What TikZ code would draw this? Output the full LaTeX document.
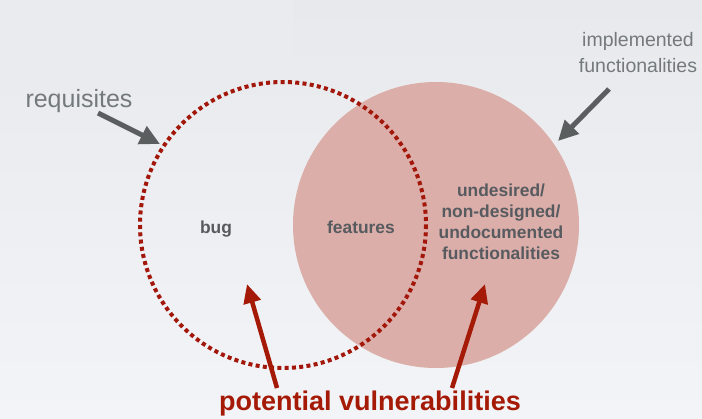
\documentclass[tikz,border=0pt]{standalone}
\usepackage{fontspec}
\setmainfont{Liberation Sans}
\usetikzlibrary{arrows.meta}
\definecolor{bgtop}{HTML}{E7E9EC}
\definecolor{bgbottom}{HTML}{F3F4F7}
\definecolor{patchcolor}{HTML}{E9EBEE}
\definecolor{pinkfill}{HTML}{DBAEAA}
\definecolor{dotred}{HTML}{A3170B}
\definecolor{arrowred}{HTML}{A51A06}
\definecolor{arrowgray}{HTML}{5A5E5E}
\definecolor{labelgray}{HTML}{74797E}
\definecolor{textgray}{HTML}{575B5F}
\tikzset{
  lightlabel/.style = {text = labelgray, inner sep = 0pt},
  boldlabel/.style = {text = textgray, inner sep = 0pt, font = \bfseries\fontsize{17.4}{21}\selectfont},
  grayarrow/.style = {draw = arrowgray, line width = 5pt, -{Triangle[length = 20pt, width = 19pt]}},
  redarrow/.style = {draw = arrowred, line width = 4.5pt, -{Triangle[length = 19pt, width = 17pt]}}
}
\begin{document}
\begin{tikzpicture}[x = 1pt, y = -1pt]
\useasboundingbox (0,0) rectangle (702,418);
\shade [top color = bgtop, bottom color = bgbottom] (0,0) rectangle (702,418);
\fill [patchcolor] (0,0) rectangle (293,72);
\pgfmathsetmacro\r{143};
% the two sets
\fill [pinkfill] (436,225) circle (\r);
\draw [draw = dotred, line width = 4pt, dash pattern = on 4pt off 3.3pt] (283,225) circle (\r);
% labels
\node[lightlabel, anchor = base, font = \fontsize{25}{30}\selectfont] (req) at (79,107) {requisites};
\node[lightlabel, align = center, font = \fontsize{19.5}{26}\selectfont] (impl) at (638,53) {implemented\\functionalities};
\node[boldlabel, anchor = base] (bug) at (216,233) {bug};
\node[boldlabel, anchor = base] (feat) at (361,233) {features};
\node[boldlabel, align = center] (undoc) at (501,222) {undesired/\\non-designed/\\undocumented\\functionalities};
\node[text = arrowred, inner sep = 0pt, anchor = base, font = \bfseries\fontsize{27}{32}\selectfont] (vuln) at (370,410) {potential vulnerabilities};
% arrows
\coordinate (reqtail) at (98,113);
\coordinate (reqtip) at (160,144);
\coordinate (impltail) at (609,89);
\coordinate (impltip) at (558,141);
\coordinate (bugtail) at (277,388);
\coordinate (bugtip) at (247,284);
\coordinate (undoctail) at (452,388);
\coordinate (undoctip) at (485,284);
\draw [grayarrow] (reqtail) -- (reqtip);
\draw [grayarrow] (impltail) -- (impltip);
\draw [redarrow] (bugtail) -- (bugtip);
\draw [redarrow] (undoctail) -- (undoctip);
\end{tikzpicture}
\end{document}
